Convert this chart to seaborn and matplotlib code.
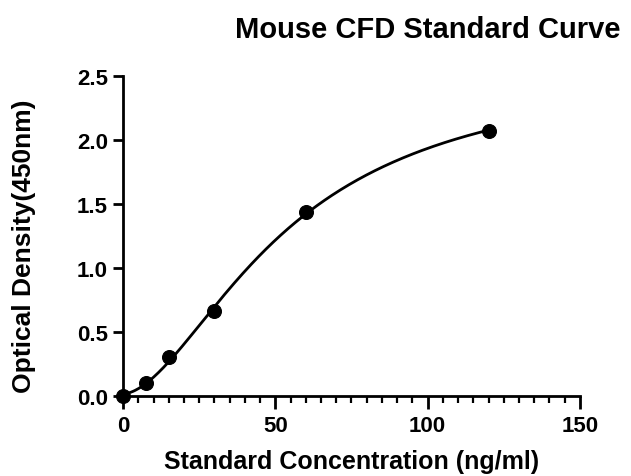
"""Mouse CFD standard curve"""

import numpy as np
import pandas as pd
import matplotlib
matplotlib.use('Agg')
import matplotlib.pyplot as plt
from matplotlib.ticker import MultipleLocator
import seaborn as sns

# Standard points
concentration = [0, 7.5, 15, 30, 60, 120]
optical_density = [0.0, 0.10, 0.30, 0.66, 1.44, 2.07]

x_ticks = [0, 50, 100, 150]
y_ticks = [0.0, 0.5, 1.0, 1.5, 2.0, 2.5]


def fit_4pl(x, y):
    '''Rough four-parameter logistic fit: grid over slope/midpoint, linear solve for asymptotes'''
    x = np.asarray(x, dtype=float)
    y = np.asarray(y, dtype=float)
    best = None
    for b in np.linspace(1.0, 3.5, 126):
        for c in np.linspace(20, 250, 231):
            g = 1.0 / (1.0 + (x / c) ** b)
            design = np.column_stack([g, 1.0 - g])
            coef, *_ = np.linalg.lstsq(design, y, rcond=None)
            err = np.sum((design @ coef - y) ** 2)
            if best is None or err < best[0]:
                best = (err, coef[0], b, c, coef[1])
    _, a, b, c, d = best
    return lambda t: d + (a - d) / (1.0 + (t / c) ** b)


points = pd.DataFrame({'conc': concentration, 'od': optical_density})
curve_fn = fit_4pl(concentration, optical_density)
grid = np.linspace(0, max(concentration), 300)
curve = pd.DataFrame({'conc': grid, 'od': curve_fn(grid)})

sns.set_style('ticks', {'text.color': 'black', 'axes.labelcolor': 'black',
                        'xtick.color': 'black', 'ytick.color': 'black',
                        'axes.edgecolor': 'black'})
plt.rcParams['font.family'] = ['Liberation Sans', 'DejaVu Sans']
plt.rcParams['font.weight'] = 'bold'

fig = plt.figure(figsize=(6.31, 4.77), dpi=100)
ax = fig.add_axes([0.195, 0.168, 0.724, 0.671])

sns.lineplot(data=curve, x='conc', y='od', color='black', linewidth=2, ax=ax)
sns.scatterplot(data=points, x='conc', y='od', color='black', s=100,
                edgecolor='black', zorder=5, clip_on=False, ax=ax)

ax.set_xlim(0, 150)
ax.set_ylim(0, 2.5)
ax.set_xticks(x_ticks)
ax.set_yticks(y_ticks)
ax.set_yticklabels([f'{v:.1f}' for v in y_ticks])
ax.xaxis.set_minor_locator(MultipleLocator(5))

for side in ['top', 'right']:
    ax.spines[side].set_visible(False)
for side in ['left', 'bottom']:
    ax.spines[side].set_linewidth(2)

ax.tick_params(axis='both', which='major', length=7, width=2, labelsize=16, pad=4)
ax.tick_params(axis='x', which='major', length=9, pad=5)
ax.tick_params(axis='x', which='minor', length=5, width=1.6)
for label in ax.get_xticklabels() + ax.get_yticklabels():
    label.set_fontweight('bold')

ax.set_xlabel('Standard Concentration (ng/ml)', fontsize=18, fontweight='bold', labelpad=9)
ax.set_ylabel('Optical Density(450nm)', fontsize=19, fontweight='bold')
ax.yaxis.set_label_coords(-0.19, 0.47)

fig.text(0.678, 0.937, 'Mouse CFD Standard Curve', ha='center', va='center',
         fontsize=21, fontweight='bold')

fig.savefig('out.png', dpi=100)
